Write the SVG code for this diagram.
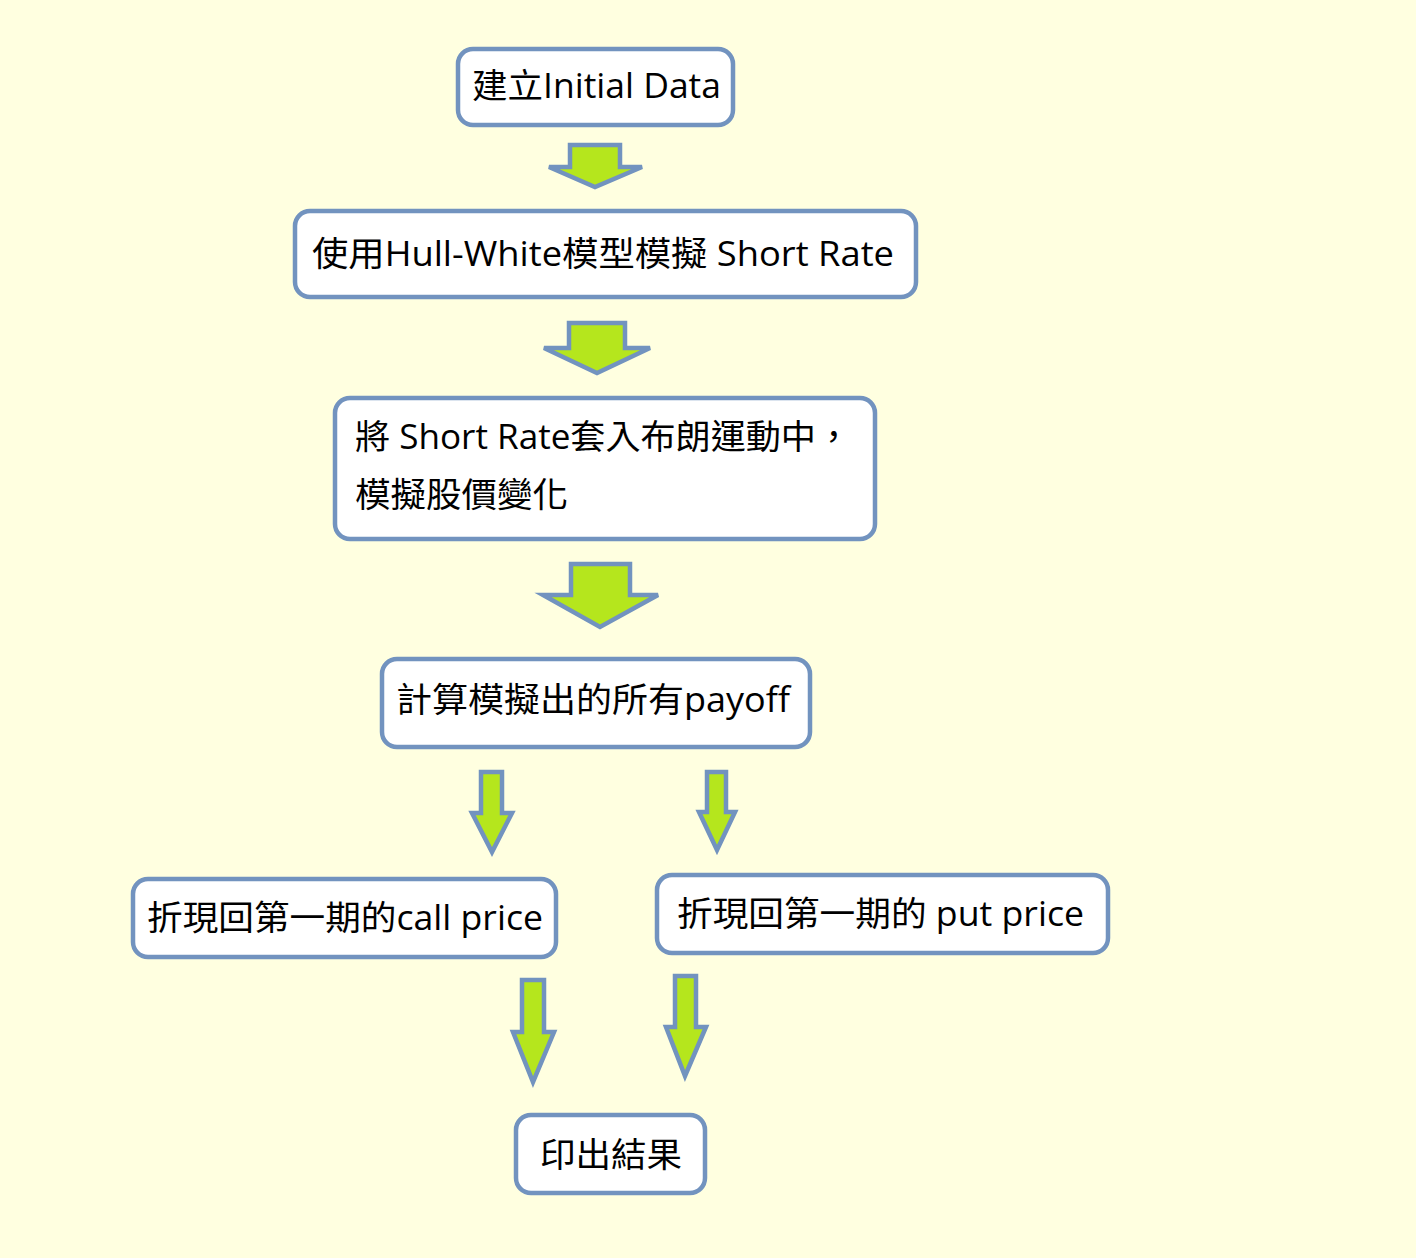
<svg xmlns="http://www.w3.org/2000/svg" width="1416" height="1258" viewBox="0 0 1416 1258">
<style>
.box{fill:#ffffff;stroke:#7293bf;stroke-width:4.5}
.arr{fill:#b5e61d;stroke:#7293bf;stroke-width:4.5;stroke-linejoin:miter}
.t{font-family:"Open Sans","Noto Sans CJK TC",sans-serif;font-size:34px;fill:#000000}
</style>
<rect x="0" y="0" width="1416" height="1258" fill="#ffffe0"/>
<g id="n1"><rect class="box" x="458" y="49" width="275" height="76" rx="15"/><text class="t" x="472" y="98" textLength="249" lengthAdjust="spacingAndGlyphs">建立Initial Data</text></g>
<g id="n2"><rect class="box" x="295" y="211" width="621" height="86" rx="15"/><text class="t" x="312" y="266" textLength="582" lengthAdjust="spacingAndGlyphs">使用Hull-White模型模擬 Short Rate</text></g>
<g id="n3"><rect class="box" x="335" y="398" width="540" height="141" rx="15"/><text class="t" x="355" y="449" textLength="496" lengthAdjust="spacingAndGlyphs">將 Short Rate套入布朗運動中，</text><text class="t" x="355" y="507" textLength="213" lengthAdjust="spacingAndGlyphs">模擬股價變化</text></g>
<g id="n4"><rect class="box" x="382" y="659" width="428" height="88" rx="15"/><text class="t" x="396" y="712" textLength="394" lengthAdjust="spacingAndGlyphs">計算模擬出的所有payoff</text></g>
<g id="n5"><rect class="box" x="133" y="879" width="423" height="78" rx="15"/><text class="t" x="147" y="930" textLength="396" lengthAdjust="spacingAndGlyphs">折現回第一期的call price</text></g>
<g id="n6"><rect class="box" x="657" y="875" width="451" height="78" rx="15"/><text class="t" x="677" y="926" textLength="407" lengthAdjust="spacingAndGlyphs">折現回第一期的 put price</text></g>
<g id="n7"><rect class="box" x="516" y="1115" width="189" height="78" rx="15"/><text class="t" x="540" y="1167" textLength="142" lengthAdjust="spacingAndGlyphs">印出結果</text></g>
<g id="connectors">
<polygon class="arr" points="570,145 620,145 620,167 642,167 595,187 549,167 570,167"/>
<polygon class="arr" points="569,323 625,323 625,348 650,348 597,373 544,348 569,348"/>
<polygon class="arr" points="571,564 630,564 630,595 658,595 600,627 543,595 571,595"/>
<polygon class="arr" points="481,772 502,772 502,813 512,813 492,852 472,813 481,813"/>
<polygon class="arr" points="707,772 726,772 726,812 735,812 717,850 699,812 707,812"/>
<polygon class="arr" points="522,980 544,980 544,1032 554,1032 533,1082 513,1032 522,1032"/>
<polygon class="arr" points="675,976 696,976 696,1027 706,1027 685,1076 666,1027 675,1027"/>
</g>
</svg>
